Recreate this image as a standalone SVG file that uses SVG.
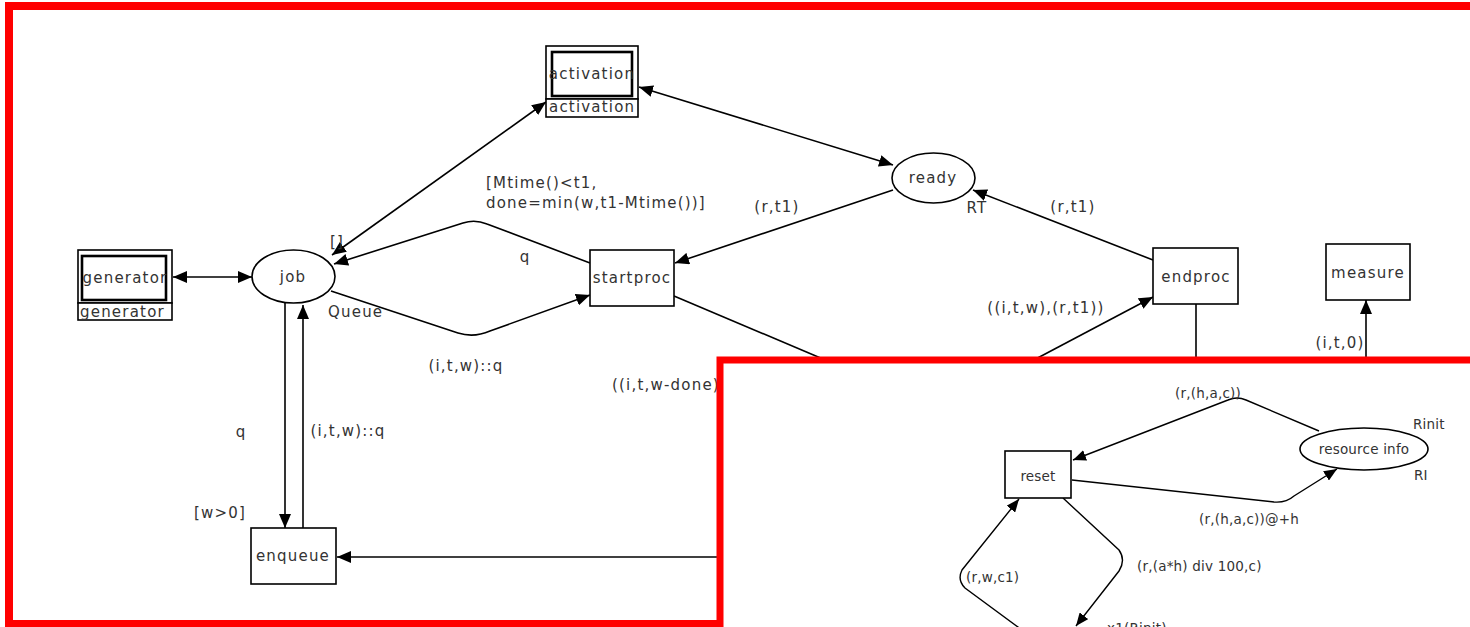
<svg xmlns="http://www.w3.org/2000/svg" width="1470" height="627" viewBox="0 0 1470 627">
  <style>
    .frame { fill: #fff; stroke: #ff0000; }
    .box { fill: #fff; stroke: #000; stroke-width: 1.6; }
    .inner { fill: #fff; stroke: #000; stroke-width: 2.6; }
    .edge { fill: none; stroke: #000; stroke-width: 1.6; }
    .edge-s { fill: none; stroke: #000; stroke-width: 1.4; }
    text { font-family: "DejaVu Sans", Verdana, sans-serif; fill: #333; }
    .t { font-size: 15px; letter-spacing: 1.2px; }
    .s { font-size: 13.5px; letter-spacing: 0.2px; }
    .c { text-anchor: middle; }
  </style>
  <defs>
    <marker id="arr" viewBox="0 0 14 12" refX="14" refY="6" markerWidth="14" markerHeight="12" markerUnits="userSpaceOnUse" orient="auto-start-reverse">
      <path d="M0,0L14,6L0,12z" fill="#000"/>
    </marker>
    <marker id="arrs" viewBox="0 0 13 11" refX="13" refY="5.5" markerWidth="13" markerHeight="11" markerUnits="userSpaceOnUse" orient="auto-start-reverse">
      <path d="M0,0L13,5.5L0,11z" fill="#000"/>
    </marker>
  </defs>

  <!-- outer page frame -->
  <rect class="frame" x="9" y="6" width="1480" height="618" stroke-width="8"/>

  <!-- main net: arcs and inscriptions -->
  <g id="connectors">
    <path class="edge" d="M173,277L252,277" marker-start="url(#arr)" marker-end="url(#arr)"/>
    <path class="edge" d="M332,255L546,102" marker-start="url(#arr)" marker-end="url(#arr)"/>
    <path class="edge" d="M639,87L893,165" marker-start="url(#arr)" marker-end="url(#arr)"/>
    <path class="edge" d="M590,263L487,224Q475,219 463,223L334,264" marker-end="url(#arr)"/>
    <path class="edge" d="M331,291L458,333Q474,338 490,331L590,295" marker-end="url(#arr)"/>
    <path class="edge" d="M893,190L675,263" marker-end="url(#arr)"/>
    <path class="edge" d="M1153,260L973,190" marker-end="url(#arr)"/>
    <path class="edge" d="M674,296L830,362"/>
    <path class="edge" d="M1030,362L1153,297" marker-end="url(#arr)"/>
    <path class="edge" d="M1196,304L1196,362"/>
    <path class="edge" d="M1366,362L1366,300" marker-end="url(#arr)"/>
    <path class="edge" d="M285,303L285,528" marker-end="url(#arr)"/>
    <path class="edge" d="M303,528L303,305" marker-end="url(#arr)"/>
    <path class="edge" d="M718,557L337,557" marker-end="url(#arr)"/>

    <text class="t" x="330" y="247">[]</text>
    <text class="t" x="486" y="188">[Mtime()&lt;t1,</text>
    <text class="t" x="486" y="208">done=min(w,t1-Mtime())]</text>
    <text class="t c" x="525" y="262">q</text>
    <text class="t" x="328" y="317">Queue</text>
    <text class="t c" x="466" y="371">(i,t,w)::q</text>
    <text class="t c" x="777" y="212">(r,t1)</text>
    <text class="t c" x="1073" y="212">(r,t1)</text>
    <text class="t c" x="977" y="213">RT</text>
    <text class="t c" x="1046" y="313">((i,t,w),(r,t1))</text>
    <text class="t c" x="1340" y="348">(i,t,0)</text>
    <text class="t" x="612" y="390">((i,t,w-done)</text>
    <text class="t c" x="241" y="437">q</text>
    <text class="t c" x="348" y="436">(i,t,w)::q</text>
    <text class="t c" x="220" y="518">[w&gt;0]</text>
  </g>

  <g id="generator">
    <rect class="box" x="78" y="250" width="94" height="53"/>
    <rect class="inner" x="82" y="256" width="84" height="44"/>
    <rect class="box" x="78" y="303" width="94" height="17"/>
    <text class="t c" x="125" y="283">generator</text>
    <text class="t" x="80" y="317">generator</text>
  </g>

  <g id="activation">
    <rect class="box" x="546" y="46" width="92" height="53"/>
    <rect class="inner" x="552" y="52" width="80" height="44"/>
    <rect class="box" x="546" y="99" width="92" height="18"/>
    <text class="t c" x="592" y="79">activation</text>
    <text class="t" x="549" y="112">activation</text>
  </g>

  <g id="job">
    <ellipse class="box" cx="293.5" cy="276.5" rx="41.5" ry="26.5"/>
    <text class="t c" x="293" y="282">job</text>
  </g>

  <g id="ready">
    <ellipse class="box" cx="933.5" cy="178" rx="41.5" ry="25"/>
    <text class="t c" x="933" y="183">ready</text>
  </g>

  <g id="startproc">
    <rect class="box" x="590" y="250" width="84" height="56"/>
    <text class="t c" x="632" y="283">startproc</text>
  </g>

  <g id="endproc">
    <rect class="box" x="1153" y="248" width="85" height="56"/>
    <text class="t c" x="1196" y="282">endproc</text>
  </g>

  <g id="measure">
    <rect class="box" x="1326" y="244" width="84" height="56"/>
    <text class="t c" x="1368" y="278">measure</text>
  </g>

  <g id="enqueue">
    <rect class="box" x="251" y="528" width="85" height="56"/>
    <text class="t c" x="293" y="561">enqueue</text>
  </g>

  <!-- resource panel laid over the lower right corner -->
  <g id="resource-panel">
    <rect class="frame" x="720" y="360" width="770" height="290" stroke-width="7"/>

    <g id="panel-connectors">
      <path class="edge-s" d="M1319,431L1246,400Q1237,396 1228,400L1073,460" marker-end="url(#arrs)"/>
      <path class="edge-s" d="M1072,480L1274,502Q1286,503 1294,496L1337,469" marker-end="url(#arrs)"/>
      <path class="edge-s" d="M1063,498L1119,550Q1126,560 1119,571L1076,626" marker-end="url(#arrs)"/>
      <path class="edge-s" d="M1022,630L965,588Q957,580 962,570L1019,499" marker-end="url(#arrs)"/>
      <text class="s c" x="1208" y="398">(r,(h,a,c))</text>
      <text class="s" x="1413" y="429">Rinit</text>
      <text class="s" x="1414" y="480">RI</text>
      <text class="s c" x="1249" y="524">(r,(h,a,c))@+h</text>
      <text class="s" x="1137" y="571">(r,(a*h) div 100,c)</text>
      <text class="s" x="966" y="582">(r,w,c1)</text>
      <text class="s" x="1107" y="633">x1(Rinit)</text>
    </g>

    <g id="reset">
      <rect class="box" x="1005" y="451" width="66" height="47" stroke-width="1.4"/>
      <text class="s c" x="1038" y="481">reset</text>
    </g>

    <g id="resource-info">
      <ellipse class="box" cx="1364" cy="449" rx="64" ry="21" stroke-width="1.4"/>
      <text class="s c" x="1364" y="454">resource info</text>
    </g>
  </g>
</svg>
